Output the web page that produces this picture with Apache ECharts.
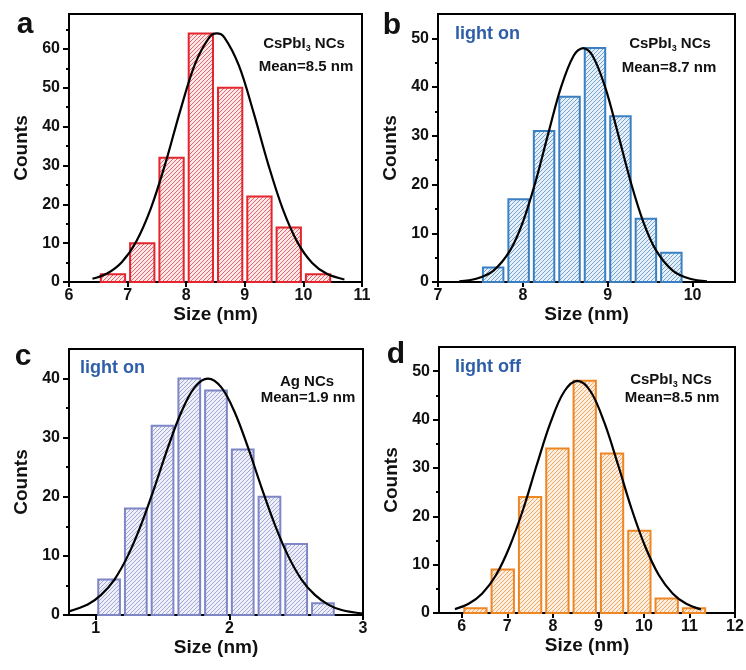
<!DOCTYPE html>
<html>
<head>
<meta charset="utf-8">
<script src="https://cdn.jsdelivr.net/npm/echarts@6/dist/echarts.min.js"></script>
<style>
  html, body { margin: 0; padding: 0; background: #fff; }
  #main { width: 746px; height: 670px; }
</style>
</head>
<body>
<div id="main"></div>
<script>
// a: CsPbI3 NCs
var sizeA = [6.75, 7.25, 7.75, 8.25, 8.75, 9.25, 9.75, 10.25];
var countsA = [2, 10, 32, 64, 50, 22, 14, 2];
var binA = 0.5;
var fitXA = [6.4, 6.65, 6.9, 7.15, 7.4, 7.65, 7.9, 8.15, 8.4, 8.52, 8.65, 8.9, 9.15, 9.4, 9.65, 9.9, 10.15, 10.4, 10.7];
var fitYA = [0.84, 2.2, 5.1, 10.5, 19.1, 30.8, 44.2, 56.1, 63.1, 64, 63.0, 55.7, 43.6, 30.3, 18.7, 10.2, 4.9, 2.1, 0.65];

// b: light on, CsPbI3 NCs
var sizeB = [7.65, 7.95, 8.25, 8.55, 8.85, 9.15, 9.45, 9.75];
var countsB = [3, 17, 31, 38, 48, 34, 13, 6];
var binB = 0.3;
var fitXB = [7.25, 7.45, 7.65, 7.85, 8.0, 8.15, 8.3, 8.45, 8.6, 8.71, 8.82, 8.97, 9.12, 9.27, 9.42, 9.57, 9.77, 9.97, 10.17];
var fitYB = [0.15, 0.66, 2.3, 6.5, 12.3, 20.6, 30.5, 40.0, 46.5, 48, 46.5, 40.0, 30.5, 20.6, 12.3, 6.5, 2.3, 0.66, 0.15];

// c: light on, Ag NCs
var sizeC = [1.1, 1.3, 1.5, 1.7, 1.9, 2.1, 2.3, 2.5, 2.7];
var countsC = [6, 18, 32, 40, 38, 28, 20, 12, 2];
var binC = 0.2;
var fitXC = [0.8, 0.94, 1.04, 1.14, 1.24, 1.34, 1.44, 1.54, 1.64, 1.74, 1.84, 1.94, 2.04, 2.14, 2.24, 2.34, 2.44, 2.54, 2.64, 2.74, 2.84, 3.0];
var fitYC = [0.62, 1.76, 3.4, 6.0, 10.0, 15.3, 21.6, 28.3, 34.3, 38.5, 40, 38.5, 34.3, 28.3, 21.6, 15.3, 10.0, 6.0, 3.4, 1.76, 0.84, 0.22];

// d: light off, CsPbI3 NCs
var sizeD = [6.3, 6.9, 7.5, 8.1, 8.7, 9.3, 9.9, 10.5, 11.1];
var countsD = [1, 9, 24, 34, 48, 33, 17, 3, 1];
var binD = 0.6;
var fitXD = [5.85, 6.15, 6.45, 6.75, 7.05, 7.35, 7.65, 7.95, 8.25, 8.54, 8.83, 9.13, 9.43, 9.73, 10.03, 10.33, 10.63, 10.93, 11.25];
var fitYD = [0.8, 1.9, 4.05, 7.8, 13.7, 21.5, 30.7, 39.4, 45.8, 48, 45.8, 39.4, 30.7, 21.5, 13.7, 7.8, 4.05, 1.9, 0.75];

// tick labels
var xTicksA = [6, 7, 8, 9, 10, 11];
var xTicksB = [7, 8, 9, 10];
var xTicksC = [1, 2, 3];
var xTicksD = [6, 7, 8, 9, 10, 11, 12];
var yTicksA = [0, 10, 20, 30, 40, 50, 60];
var yTicksB = [0, 10, 20, 30, 40, 50];
var yTicksC = [0, 10, 20, 30, 40];
var yTicksD = [0, 10, 20, 30, 40, 50];

var FONT = "'Liberation Sans', Arial, sans-serif";

function hatch(color, bg) {
    //斜线填充
    var c = document.createElement("canvas");
    c.width = 4;
    c.height = 4;
    var ctx = c.getContext("2d");
    ctx.fillStyle = bg;
    ctx.fillRect(0, 0, 4, 4);
    ctx.globalAlpha = 0.75;
    ctx.strokeStyle = color;
    ctx.lineWidth = 0.9;
    ctx.beginPath();
    ctx.moveTo(-1, 5); ctx.lineTo(5, -1);
    ctx.moveTo(-1, 1); ctx.lineTo(1, -1);
    ctx.moveTo(3, 5); ctx.lineTo(5, 3);
    ctx.stroke();
    return { image: c, repeat: "repeat" };
}

var panels = [
    { size: sizeA, counts: countsA, bin: binA, fx: fitXA, fy: fitYA, xt: xTicksA, yt: yTicksA,
      xmin: 6, xmax: 11, ymax: 69, color: "#e3262e", bg: "#fbe9e9",
      grid: { left: 69, top: 14, width: 293, height: 268 } },
    { size: sizeB, counts: countsB, bin: binB, fx: fitXB, fy: fitYB, xt: xTicksB, yt: yTicksB,
      xmin: 7, xmax: 10.5, ymax: 55, color: "#3a7fc1", bg: "#e7f0f8",
      grid: { left: 438, top: 14, width: 297, height: 268 } },
    { size: sizeC, counts: countsC, bin: binC, fx: fitXC, fy: fitYC, xt: xTicksC, yt: yTicksC,
      xmin: 0.8, xmax: 3, ymax: 45, color: "#7e86c6", bg: "#eeeff8",
      grid: { left: 69, top: 349, width: 294, height: 266 } },
    { size: sizeD, counts: countsD, bin: binD, fx: fitXD, fy: fitYD, xt: xTicksD, yt: yTicksD,
      xmin: 5.5, xmax: 12, ymax: 55, color: "#ee8624", bg: "#fcefe2",
      grid: { left: 439, top: 347, width: 296, height: 266 } }
];

var grids = [], xAxes = [], yAxes = [], series = [];

panels.forEach(function (p, i) {
    grids.push(Object.assign({
        show: true,
        borderColor: "#000",
        borderWidth: 2,
        backgroundColor: "transparent",
        containLabel: false,
        outerBoundsMode: "none"
    }, p.grid));

    xAxes.push({
        type: "value",
        gridIndex: i,
        min: p.xmin,
        max: p.xmax,
        name: "Size (nm)",
        nameLocation: "middle",
        nameGap: 21,
        nameTextStyle: { fontSize: 19, fontWeight: "bold", color: "#111", fontFamily: FONT, verticalAlign: "top" },
        axisLine: { onZero: false, lineStyle: { color: "#000", width: 2 } },
        axisTick: { customValues: p.xt, length: 5, lineStyle: { color: "#000", width: 2 } },
        axisLabel: { customValues: p.xt, margin: 6, fontSize: 16, fontWeight: "bold", color: "#111", fontFamily: FONT },
        splitLine: { show: false }
    });

    var minors = p.yt.map(function (v) { return v + 5; }).filter(function (v) { return v < p.ymax; });
    yAxes.push({
        type: "value",
        gridIndex: i,
        position: "left",
        min: 0,
        max: p.ymax,
        name: "Counts",
        nameLocation: "middle",
        nameGap: 38,
        nameTextStyle: { fontSize: 19, fontWeight: "bold", color: "#111", fontFamily: FONT },
        axisLine: { onZero: false, lineStyle: { color: "#000", width: 2 } },
        axisTick: { customValues: p.yt, length: 6, lineStyle: { color: "#000", width: 2 } },
        axisLabel: { customValues: p.yt, margin: 9, fontSize: 16, fontWeight: "bold", color: "#111", fontFamily: FONT },
        splitLine: { show: false }
    });
    yAxes.push({
        type: "value",
        gridIndex: i,
        position: "left",
        offset: 0,
        min: 0,
        max: p.ymax,
        axisLine: { show: false },
        axisTick: { customValues: minors, length: 3, lineStyle: { color: "#000", width: 2 } },
        axisLabel: { show: false },
        splitLine: { show: false }
    });

    var fill = hatch(p.color, p.bg);
    series.push({
        type: "custom",
        xAxisIndex: i,
        yAxisIndex: i * 2,
        data: p.size.map(function (s, k) { return [s, p.counts[k]]; }),
        renderItem: function (params, api) {
            var x = api.value(0), v = api.value(1);
            var p0 = api.coord([x - p.bin / 2, 0]);
            var p1 = api.coord([x + p.bin / 2, v]);
            return {
                type: "rect",
                shape: { x: p0[0] + 2.5, y: p1[1], width: p1[0] - p0[0] - 5, height: p0[1] - p1[1] },
                style: { fill: fill, stroke: p.color, lineWidth: 2 }
            };
        },
        z: 2
    });
    series.push({
        type: "line",
        xAxisIndex: i,
        yAxisIndex: i * 2,
        data: p.fx.map(function (x, k) { return [x, p.fy[k]]; }),
        smooth: 0.35,
        showSymbol: false,
        lineStyle: { color: "#000", width: 2.2 },
        z: 3
    });
});

function txt(x, y, text, size, color, align) {
    return {
        type: "text",
        x: x,
        y: y,
        z: 10,
        style: {
            text: text,
            fontSize: size,
            fontWeight: "bold",
            fontFamily: FONT,
            fill: color || "#111",
            align: align || "center",
            verticalAlign: "middle"
        }
    };
}

function cspb(x, y) {
    return {
        type: "text",
        x: x,
        y: y,
        z: 10,
        style: {
            text: "{b|CsPbI}{s|3}{b| NCs}",
            align: "center",
            verticalAlign: "middle",
            rich: {
                b: { fontSize: 15, fontWeight: "bold", fontFamily: FONT, fill: "#111" },
                s: { fontSize: 9, fontWeight: "bold", fontFamily: FONT, fill: "#111", padding: [9, 0, 0, 0] }
            }
        }
    };
}

var graphics = [
    txt(25, 25, "a", 30),
    txt(392, 26, "b", 30),
    txt(23, 357, "c", 30),
    txt(396, 355, "d", 30),
    cspb(304, 44),
    txt(306, 67, "Mean=8.5 nm", 15),
    txt(455, 34, "light on", 18, "#2f5ea9", "left"),
    cspb(670, 44),
    txt(669, 68, "Mean=8.7 nm", 15),
    txt(80, 368, "light on", 18, "#2f5ea9", "left"),
    txt(307, 382, "Ag NCs", 15),
    txt(308, 398, "Mean=1.9 nm", 15),
    txt(455, 367, "light off", 18, "#2f5ea9", "left"),
    cspb(671, 380),
    txt(672, 398, "Mean=8.5 nm", 15)
];

var myChart = echarts.init(document.getElementById("main"));
var option = {
    animation: false,
    backgroundColor: "#fff",
    grid: grids,
    xAxis: xAxes,
    yAxis: yAxes,
    series: series,
    graphic: graphics
};
myChart.setOption(option);
</script>
</body>
</html>
